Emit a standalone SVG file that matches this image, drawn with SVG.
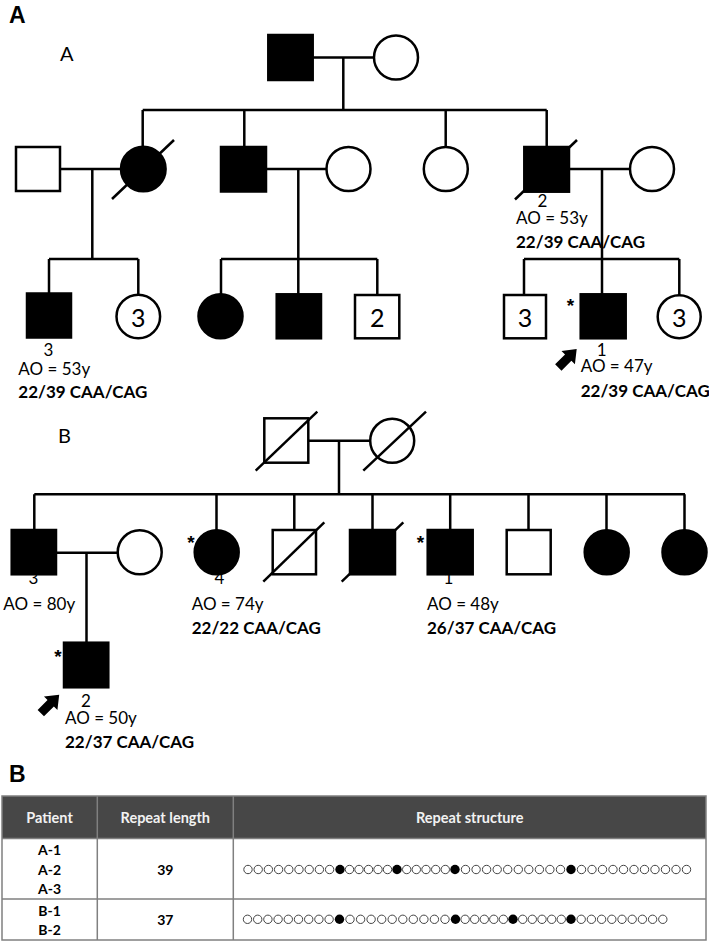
<svg xmlns="http://www.w3.org/2000/svg" xmlns:xlink="http://www.w3.org/1999/xlink" width="709" height="942" viewBox="0 0 709 942">
<style>
.ln{stroke:#000;stroke-width:2.5;fill:none}
.aff{fill:#000;stroke:#000;stroke-width:2.5}
.un{fill:#fff;stroke:#000;stroke-width:2.5}
.sl{stroke:#000;stroke-width:2.5}
.t{font-family:Lato,"Open Sans","Liberation Sans",sans-serif;font-size:17px;fill:#000}
.b{font-weight:bold}
.c{text-anchor:middle}
.big{font-size:25px}
.ast{font-family:"Liberation Sans",Arial,sans-serif;font-size:19px;font-weight:bold;text-anchor:middle}
.sec{font-family:"Liberation Sans",Arial,sans-serif;font-weight:bold;font-size:23px}
.fam{font-family:Lato,"Open Sans",sans-serif;font-size:20px}
.th{font-family:Lato,"Open Sans",sans-serif;font-size:14.5px;font-weight:bold;fill:#f2f2f2;text-anchor:middle}
.td{font-family:Lato,"Open Sans",sans-serif;font-size:14px;font-weight:bold;fill:#000;text-anchor:middle}
.tl{stroke:#808080;stroke-width:1.5;fill:none}
</style>
<defs>
<path id="arrow" d="M13,0 L1,-9.5 L1,-4.5 L-13,-4.5 L-13,4.5 L1,4.5 L1,9.5 Z" fill="#000"/>
<circle id="o" r="4.2" fill="#fff" stroke="#444" stroke-width="1"/>
<circle id="f" r="4.7" fill="#000"/>
</defs>
<rect width="709" height="942" fill="#fff"/>

<text class="sec" x="9" y="23">A</text>
<text class="fam" x="60" y="61">A</text>
<text class="fam" x="58" y="443">B</text>
<text class="sec" x="9" y="782">B</text>

<g id="connectors" class="ln">
<path d="M313 57.5H374M343.3 57.5V110M142.7 110H546.7M142.7 110V147M244.3 110V147M445.7 110V147M546.7 110V147"/>
<path d="M60 169H121M92.3 169V259M49 259H138.3M49 259V293.5M138.3 259V295"/>
<path d="M266 169H326.7M298.3 169V259M221 259H377.3M221 259V294.3M298.3 259V294.3M377.3 259V295"/>
<path d="M569 169H630M602 169V294.3M524 259H679.3M524 259V295M679.3 259V295"/>
<path d="M308.3 440.7H370M339 440.7V494.3M34.3 494.3H685M34.3 494.3V530M216.5 494.3V530M294.3 494.3V530M372.5 494.3V530M450.2 494.3V530M528.5 494.3V530M606.5 494.3V530M684.5 494.3V530"/>
<path d="M56 552.7H117.7M86.5 552.7V642.7"/>
</g>

<g id="A-I-1"><rect class="aff" x="268.3" y="35" width="44.4" height="45"/></g>
<g id="A-I-2"><circle class="un" cx="396" cy="57.5" r="22"/></g>
<g id="A-II-1"><rect class="un" x="16" y="147" width="44" height="44"/></g>
<g id="A-II-2"><circle class="aff" cx="143.3" cy="169" r="22.3"/><line class="sl" x1="112" y1="199" x2="174" y2="140"/></g>
<g id="A-II-3"><rect class="aff" x="221" y="147" width="45" height="44.5"/></g>
<g id="A-II-4"><circle class="un" cx="348.5" cy="169" r="22"/></g>
<g id="A-II-5"><circle class="un" cx="445.8" cy="169" r="22"/></g>
<g id="A-2"><rect class="aff" x="524.3" y="147" width="44.7" height="44.7"/><line class="sl" x1="515" y1="199.5" x2="577" y2="140"/>
<text class="t c" x="542.5" y="207">2</text><text class="t" x="516" y="224">AO = 53y</text><text class="t b" x="516" y="248">22/39 CAA/CAG</text></g>
<g id="A-II-7"><circle class="un" cx="652" cy="169" r="22"/></g>

<g id="A-3"><rect class="aff" x="27" y="293.5" width="44" height="44"/>
<text class="t c" x="48.5" y="356">3</text><text class="t" x="18.3" y="375">AO = 53y</text><text class="t b" x="18.3" y="397.5">22/39 CAA/CAG</text></g>
<g id="A-III-2"><circle class="un" cx="138.3" cy="316.5" r="21.8"/><text class="t big c" x="138.3" y="326.5">3</text></g>
<g id="A-III-3"><circle class="aff" cx="220.5" cy="316.3" r="22"/></g>
<g id="A-III-4"><rect class="aff" x="276.7" y="294.3" width="44.3" height="44"/></g>
<g id="A-III-5"><rect class="un" x="355" y="295" width="44.3" height="43.3"/><text class="t big c" x="377.2" y="326.7">2</text></g>
<g id="A-III-6"><rect class="un" x="504" y="295" width="42" height="43.3"/><text class="t big c" x="525" y="327">3</text></g>
<g id="A-1"><rect class="aff" x="580.7" y="294.3" width="45" height="44"/>
<text class="ast" x="570.5" y="312">*</text>
<use href="#arrow" transform="translate(567.5 358.3) rotate(-45)"/>
<text class="t c" x="601.7" y="355.5">1</text><text class="t" x="580.7" y="371.5">AO = 47y</text><text class="t b" x="580.7" y="397">22/39 CAA/CAG</text></g>
<g id="A-III-8"><circle class="un" cx="679.2" cy="316.7" r="21.5"/><text class="t big c" x="679.2" y="326.7">3</text></g>

<g id="B-I-1"><rect class="un" x="264.3" y="418.3" width="44" height="44.4"/><line class="sl" x1="255.7" y1="470.7" x2="317.3" y2="411.7"/></g>
<g id="B-I-2"><circle class="un" cx="392.2" cy="440.8" r="22"/><line class="sl" x1="363.3" y1="470.7" x2="426" y2="411.7"/></g>
<g id="B-3"><rect class="aff" x="11.7" y="530" width="44.3" height="44.3"/>
<text class="t c" x="33.5" y="584">3</text><text class="t" x="3.3" y="610">AO = 80y</text></g>
<g id="B-II-2"><circle class="un" cx="139.7" cy="552.3" r="22"/></g>
<g id="B-4"><circle class="aff" cx="216.7" cy="552.3" r="22"/>
<text class="ast" x="191" y="548.5">*</text>
<text class="t c" x="219.5" y="584">4</text><text class="t" x="191.7" y="610">AO = 74y</text><text class="t b" x="191.7" y="634">22/22 CAA/CAG</text></g>
<g id="B-II-4"><rect class="un" x="272.7" y="530" width="43.3" height="44.3"/><line class="sl" x1="263.3" y1="581.7" x2="324.3" y2="522.3"/></g>
<g id="B-II-5"><rect class="aff" x="350" y="530" width="45" height="44.3"/><line class="sl" x1="341.7" y1="581.7" x2="403.3" y2="522.3"/></g>
<g id="B-1"><rect class="aff" x="427.7" y="530" width="45" height="44.3"/>
<text class="ast" x="420.5" y="549">*</text>
<text class="t c" x="448.5" y="584">1</text><text class="t" x="427" y="610">AO = 48y</text><text class="t b" x="427" y="634">26/37 CAA/CAG</text></g>
<g id="B-II-7"><rect class="un" x="506.7" y="530" width="44" height="44.3"/></g>
<g id="B-II-8"><circle class="aff" cx="606.7" cy="552.3" r="22"/></g>
<g id="B-II-9"><circle class="aff" cx="684.5" cy="552.3" r="22"/></g>
<g id="B-2"><rect class="aff" x="64" y="642.7" width="44.3" height="44.6"/>
<text class="ast" x="58" y="663">*</text>
<use href="#arrow" transform="translate(50 704) rotate(-45)"/>
<text class="t c" x="86" y="707">2</text><text class="t" x="65" y="724">AO = 50y</text><text class="t b" x="65" y="747.5">22/37 CAA/CAG</text></g>

<g id="table">
<rect x="2" y="796" width="704" height="42.5" fill="#474747"/>
<rect class="tl" x="2" y="796" width="704" height="144"/>
<path class="tl" d="M97.3 796V940M233.3 796V940M2 838.5H706M2 899H706"/>
<text class="th" x="49.5" y="823">Patient</text>
<text class="th" x="165.3" y="823">Repeat length</text>
<text class="th" x="469.7" y="823">Repeat structure</text>
<text class="td" x="49.5" y="855">A-1</text>
<text class="td" x="49.5" y="874.5">A-2</text>
<text class="td" x="49.5" y="894">A-3</text>
<text class="td" x="165.3" y="874.5">39</text>
<text class="td" x="49.5" y="915.5">B-1</text>
<text class="td" x="49.5" y="935">B-2</text>
<text class="td" x="165.3" y="925">37</text>
<g id="row1">
<use href="#o" x="248" y="869.5"/><use href="#o" x="258.2" y="869.5"/><use href="#o" x="268.4" y="869.5"/><use href="#o" x="278.6" y="869.5"/><use href="#o" x="288.8" y="869.5"/><use href="#o" x="299" y="869.5"/><use href="#o" x="309.2" y="869.5"/><use href="#o" x="319.4" y="869.5"/><use href="#o" x="329.6" y="869.5"/>
<use href="#f" x="340" y="869.5"/>
<use href="#o" x="349.5" y="869.5"/><use href="#o" x="359" y="869.5"/><use href="#o" x="368.5" y="869.5"/><use href="#o" x="378" y="869.5"/><use href="#o" x="387.5" y="869.5"/>
<use href="#f" x="397" y="869.5"/>
<use href="#o" x="406.7" y="869.5"/><use href="#o" x="416.3" y="869.5"/><use href="#o" x="426" y="869.5"/><use href="#o" x="435.7" y="869.5"/><use href="#o" x="445.3" y="869.5"/>
<use href="#f" x="455" y="869.5"/>
<use href="#o" x="465.5" y="869.5"/><use href="#o" x="476.1" y="869.5"/><use href="#o" x="486.6" y="869.5"/><use href="#o" x="497.2" y="869.5"/><use href="#o" x="507.7" y="869.5"/><use href="#o" x="518.3" y="869.5"/><use href="#o" x="528.8" y="869.5"/><use href="#o" x="539.4" y="869.5"/><use href="#o" x="549.9" y="869.5"/><use href="#o" x="560.5" y="869.5"/>
<use href="#f" x="571" y="869.5"/>
<use href="#o" x="581.5" y="869.5"/><use href="#o" x="592" y="869.5"/><use href="#o" x="602.5" y="869.5"/><use href="#o" x="613" y="869.5"/><use href="#o" x="623.5" y="869.5"/><use href="#o" x="634" y="869.5"/><use href="#o" x="644.5" y="869.5"/><use href="#o" x="655" y="869.5"/><use href="#o" x="665.5" y="869.5"/><use href="#o" x="676" y="869.5"/><use href="#o" x="686.5" y="869.5"/>
</g>
<g id="row2">
<use href="#o" x="247.5" y="919.3"/><use href="#o" x="257.7" y="919.3"/><use href="#o" x="267.9" y="919.3"/><use href="#o" x="278.1" y="919.3"/><use href="#o" x="288.3" y="919.3"/><use href="#o" x="298.5" y="919.3"/><use href="#o" x="308.7" y="919.3"/><use href="#o" x="318.9" y="919.3"/><use href="#o" x="329.1" y="919.3"/>
<use href="#f" x="339.5" y="919.3"/>
<use href="#o" x="350" y="919.3"/><use href="#o" x="360.6" y="919.3"/><use href="#o" x="371.1" y="919.3"/><use href="#o" x="381.7" y="919.3"/><use href="#o" x="392.2" y="919.3"/><use href="#o" x="402.8" y="919.3"/><use href="#o" x="413.3" y="919.3"/><use href="#o" x="423.9" y="919.3"/><use href="#o" x="434.4" y="919.3"/><use href="#o" x="445" y="919.3"/>
<use href="#f" x="455.5" y="919.3"/>
<use href="#o" x="465.1" y="919.3"/><use href="#o" x="474.7" y="919.3"/><use href="#o" x="484.3" y="919.3"/><use href="#o" x="493.8" y="919.3"/><use href="#o" x="503.4" y="919.3"/>
<use href="#f" x="513" y="919.3"/>
<use href="#o" x="522.7" y="919.3"/><use href="#o" x="532.3" y="919.3"/><use href="#o" x="542" y="919.3"/><use href="#o" x="551.7" y="919.3"/><use href="#o" x="561.3" y="919.3"/>
<use href="#f" x="571" y="919.3"/>
<use href="#o" x="581.2" y="919.3"/><use href="#o" x="591.4" y="919.3"/><use href="#o" x="601.6" y="919.3"/><use href="#o" x="611.8" y="919.3"/><use href="#o" x="622" y="919.3"/><use href="#o" x="632.2" y="919.3"/><use href="#o" x="642.4" y="919.3"/><use href="#o" x="652.6" y="919.3"/><use href="#o" x="662.8" y="919.3"/>
</g>
</g>
</svg>
